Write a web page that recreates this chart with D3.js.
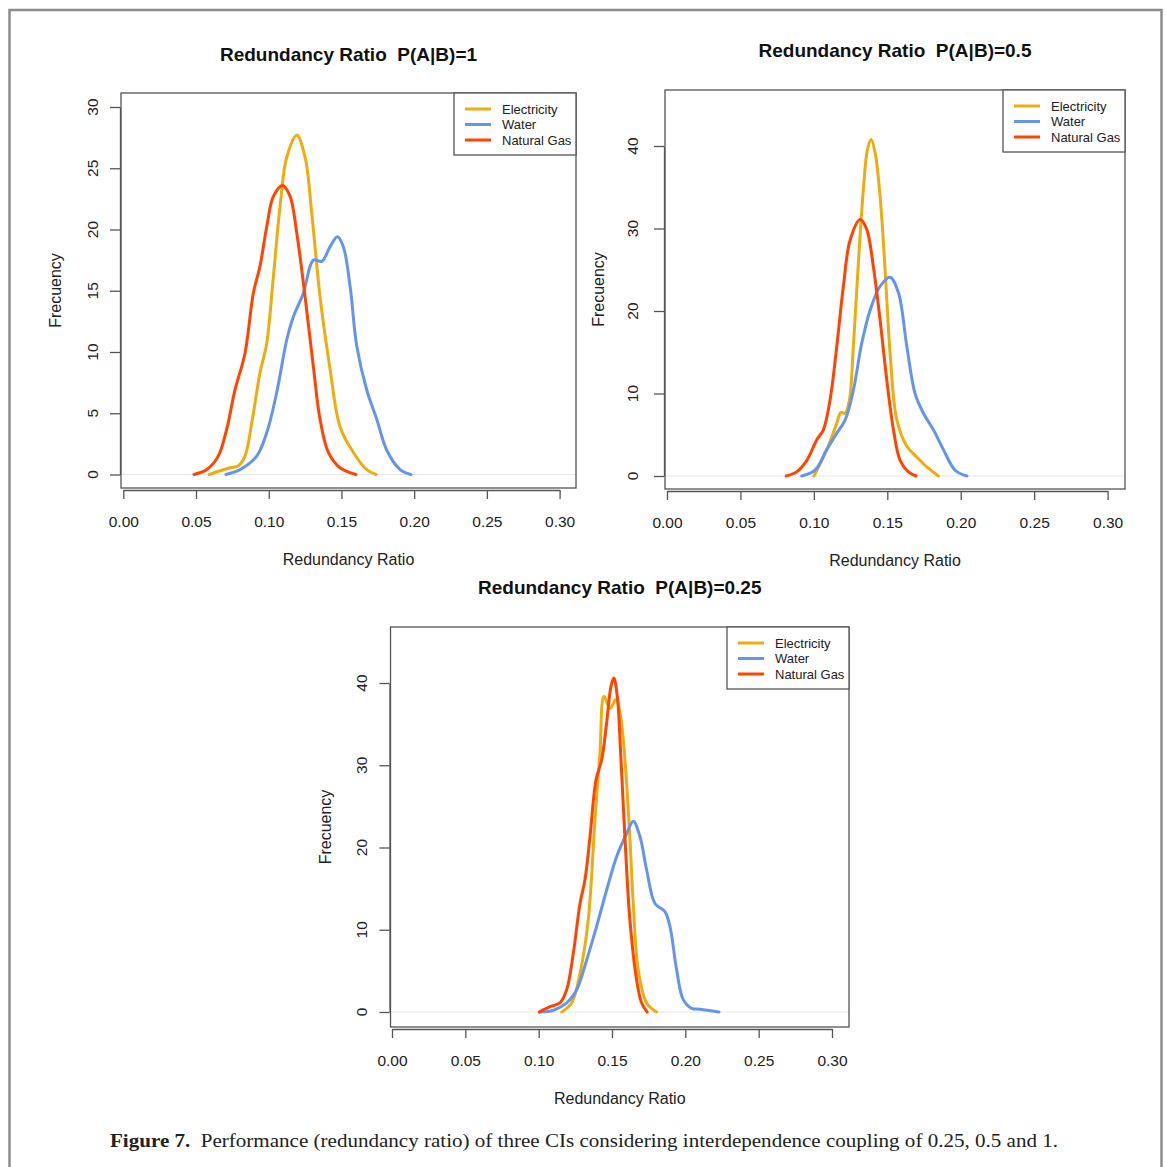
<!doctype html>
<html>
<head>
<meta charset="utf-8">
<script src="https://cdn.jsdelivr.net/npm/d3@7"></script>
<style>
  body { margin: 0; background: #fff; }
  text { font-family: "Liberation Sans", Arial, sans-serif; fill: #222; }
</style>
</head>
<body>
<svg width="1166" height="1167"></svg>
<script>
// ---- data ----
var seriesNames = ["Electricity", "Water", "Natural Gas"];
var seriesColors = ["#EEAD0E", "#6495ED", "#FF4500"];
var titles = ["Redundancy Ratio\u00a0\u00a0P(A|B)=1", "Redundancy Ratio\u00a0\u00a0P(A|B)=0.5", "Redundancy Ratio\u00a0\u00a0P(A|B)=0.25"];
var xTicks = [0, 0.05, 0.10, 0.15, 0.20, 0.25, 0.30];
var yTicksP1 = [0, 5, 10, 15, 20, 25, 30];
var yTicksP2 = [0, 10, 20, 30, 40];

// P(A|B)=1
var p1Electricity = [[0.0591,0],[0.0734,0.55],[0.079,0.7],[0.0837,1.5],[0.0883,4.2],[0.094,8.3],[0.0986,10.7],
  [0.103,15.9],[0.1078,21.9],[0.1124,25.9],[0.1193,27.7],[0.125,25.9],[0.1296,21.3],[0.1353,14.5],[0.1422,8.6],
  [0.149,3.9],[0.1582,1.8],[0.1674,0.4],[0.1738,0]];
var p1Water = [[0.0706,0],[0.0803,0.4],[0.0917,1.5],[0.0986,3.4],[0.1055,6.7],[0.1124,11],[0.117,12.9],
  [0.1238,14.8],[0.1307,17.5],[0.1365,17.4],[0.1422,18.6],[0.1472,19.4],[0.1513,18.6],[0.156,15.3],[0.1605,10.5],
  [0.1674,6.9],[0.1743,4.5],[0.1811,2.0],[0.1903,0.4],[0.1977,0]];
var p1Gas = [[0.0486,0],[0.0574,0.4],[0.0653,1.5],[0.0711,3.7],[0.0768,6.9],[0.0837,9.9],[0.0894,14.8],
  [0.094,17],[0.0986,20.2],[0.1032,22.7],[0.1096,23.6],[0.1147,22.7],[0.1193,19.7],[0.125,14.5],[0.1307,8.8],
  [0.1353,4.5],[0.141,1.8],[0.149,0.55],[0.16,0]];

// P(A|B)=0.5
var p2Electricity = [[0.1001,0],[0.1088,3.2],[0.1156,6.4],[0.1183,7.7],[0.1213,7.6],[0.1242,9.2],[0.1269,15.7],
  [0.1303,25.8],[0.1337,34.7],[0.1365,39.6],[0.139,40.8],[0.1417,39.2],[0.1451,33.9],[0.1485,25],[0.1519,14.9],
  [0.1565,6.8],[0.1633,3.6],[0.1701,2.3],[0.1769,1.1],[0.1848,0]];
var p2Water = [[0.0917,0],[0.1008,0.7],[0.1088,3.2],[0.1156,5.2],[0.1213,6.8],[0.1269,10.4],[0.1326,16.1],
  [0.1383,20.1],[0.1451,23],[0.1519,24.1],[0.1576,22.2],[0.1633,15.7],[0.1689,10],[0.1746,7.6],[0.1814,5.6],
  [0.1882,3.2],[0.1962,0.7],[0.2042,0]];
var p2Gas = [[0.0811,0],[0.0883,0.5],[0.0952,1.9],[0.102,4.4],[0.1065,5.6],[0.111,9.2],[0.1156,15.7],
  [0.1201,23],[0.1247,28.6],[0.1315,31.1],[0.136,29.9],[0.1405,25.4],[0.1451,18.9],[0.1496,11.7],[0.1542,5.6],
  [0.1587,1.9],[0.1644,0.5],[0.1696,0]];

// P(A|B)=0.25
var p3Electricity = [[0.1157,0],[0.1225,1.1],[0.1282,4.7],[0.1338,11.2],[0.1384,23.4],[0.1418,31.5],[0.1445,38.4],
  [0.1486,36.9],[0.1527,38],[0.1559,35.9],[0.1588,30.7],[0.1618,22.5],[0.1645,13.2],[0.1679,5.1],[0.1736,1.1],[0.1804,0]];
var p3Water = [[0.1009,0],[0.11,0.2],[0.1191,1.1],[0.1259,2.7],[0.1327,6.3],[0.1395,10.4],[0.1463,14.8],
  [0.1532,18.9],[0.16,21.7],[0.1645,23.2],[0.1691,21.3],[0.1736,17.3],[0.1793,13.2],[0.1861,12.2],[0.1895,10.4],
  [0.1941,5.1],[0.1986,1.5],[0.2043,0.45],[0.21,0.33],[0.2229,0]];
var p3Gas = [[0.1004,0],[0.1077,0.65],[0.1145,1.1],[0.1191,2.7],[0.1236,7.1],[0.1282,13.2],[0.1316,16.1],
  [0.135,21.3],[0.1391,28.2],[0.143,30.7],[0.1463,35.1],[0.1493,39.6],[0.1513,40.6],[0.1536,38.4],[0.1559,31.5],
  [0.1588,21.3],[0.1622,11.2],[0.1668,3.9],[0.1702,1.1],[0.174,0]];

// ---- layout ----
var panels = [
  {title: titles[0], series: [p1Electricity, p1Water, p1Gas], yTicks: yTicksP1,
   box: [121, 93, 576, 488], xr: [123.3, 559.6], yr: [474.5, 107], titleY: 54, tickLabX: 92, yLabX: 55},
  {title: titles[1], series: [p2Electricity, p2Water, p2Gas], yTicks: yTicksP2,
   box: [665, 90, 1125, 489], xr: [667, 1107.6], yr: [476, 146], titleY: 50, tickLabX: 632, yLabX: 598},
  {title: titles[2], series: [p3Electricity, p3Water, p3Gas], yTicks: yTicksP2,
   box: [390.5, 627, 849, 1027], xr: [392, 832], yr: [1012, 683], titleY: 587, tickLabX: 361, yLabX: 325}
];

var svg = d3.select("svg");

// page frame (open at the bottom)
svg.append("path")
   .attr("d", "M9.5,1170 V10 H1161.5 V1170")
   .attr("fill", "none")
   .attr("stroke", "#8c8c8c")
   .attr("stroke-width", 2.5);

panels.forEach(function(p) {
    var b = p.box;
    var yMax = p.yTicks[p.yTicks.length - 1];
    var x = d3.scaleLinear().domain([0, 0.30]).range(p.xr);
    var y = d3.scaleLinear().domain([0, yMax]).range(p.yr);
    var g = svg.append("g");
    var cx = (b[0] + b[2]) / 2, cy = (b[1] + b[3]) / 2;

    g.append("text")
     .attr("x", cx).attr("y", p.titleY)
     .attr("dy", "0.35em")
     .attr("text-anchor", "middle")
     .attr("font-weight", "bold")
     .attr("font-size", "19px")
     .style("fill", "#111")
     .text(p.title);

    // zero line
    g.append("line")
     .attr("x1", b[0]).attr("x2", b[2])
     .attr("y1", y(0)).attr("y2", y(0))
     .attr("stroke", "#e6e6e6").attr("stroke-width", 1);

    // curves
    var line = d3.line()
        .x(function(d) { return x(d[0]); })
        .y(function(d) { return y(d[1]); })
        .curve(d3.curveCatmullRom.alpha(0.5));
    p.series.forEach(function(s, i) {
        g.append("path")
         .datum(s)
         .attr("fill", "none")
         .attr("stroke", seriesColors[i])
         .attr("stroke-width", 3)
         .attr("stroke-linejoin", "round")
         .attr("stroke-linecap", "round")
         .attr("d", line);
    });

    // box
    g.append("rect")
     .attr("x", b[0]).attr("y", b[1])
     .attr("width", b[2] - b[0]).attr("height", b[3] - b[1])
     .attr("fill", "none").attr("stroke", "#555").attr("stroke-width", 1.3);

    // x axis
    var xa = g.append("g")
        .attr("transform", "translate(0," + (b[3] + 2) + ")")
        .call(d3.axisBottom(x).tickValues(xTicks).tickSize(9).tickSizeOuter(0).tickFormat(d3.format(".2f")));
    xa.selectAll("path, line").attr("stroke", "#555").attr("stroke-width", 1.3);
    xa.selectAll("text")
      .attr("y", 31).attr("dy", 0)
      .attr("dominant-baseline", "central")
      .attr("font-size", "15.5px")
      .attr("font-family", "Liberation Sans, Arial, sans-serif")
      .style("fill", "#222");

    g.append("text")
     .attr("x", cx).attr("y", b[3] + 71)
     .attr("dominant-baseline", "central")
     .attr("text-anchor", "middle")
     .attr("font-size", "16px")
     .text("Redundancy Ratio");

    // y axis
    var ya = g.append("g")
        .attr("transform", "translate(" + (b[0] - 1) + ",0)")
        .call(d3.axisLeft(y).tickValues(p.yTicks).tickSize(10).tickSizeOuter(0));
    ya.selectAll("path, line").attr("stroke", "#555").attr("stroke-width", 1.3);
    ya.selectAll("text").remove();
    p.yTicks.forEach(function(t) {
        g.append("text")
         .attr("transform", "translate(" + p.tickLabX + "," + y(t) + ") rotate(-90)")
         .attr("text-anchor", "middle")
         .attr("dominant-baseline", "central")
         .attr("font-size", "15.5px")
         .text(t);
    });
    g.append("text")
     .attr("transform", "translate(" + p.yLabX + "," + cy + ") rotate(-90)")
     .attr("text-anchor", "middle")
     .attr("dominant-baseline", "central")
     .attr("font-size", "16px")
     .text("Frecuency");

    // legend
    var lx = b[2] - 122, ly = b[1];
    g.append("rect")
     .attr("x", lx).attr("y", ly).attr("width", 122).attr("height", 62)
     .attr("fill", "#fff").attr("stroke", "#555").attr("stroke-width", 1.3);
    seriesNames.forEach(function(n, i) {
        var yy = ly + 16 + i * 15.5;
        g.append("line")
         .attr("x1", lx + 11).attr("x2", lx + 37)
         .attr("y1", yy).attr("y2", yy)
         .attr("stroke", seriesColors[i]).attr("stroke-width", 3);
        g.append("text")
         .attr("x", lx + 48).attr("y", yy)
         .attr("dominant-baseline", "central")
         .attr("font-size", "13px")
         .text(n);
    });
});

// caption
var cap = svg.append("text")
    .attr("x", 110).attr("y", 1140)
    .attr("dominant-baseline", "central")
    .attr("textLength", 948)
    .attr("lengthAdjust", "spacingAndGlyphs")
    .style("font-family", "'Liberation Serif', 'DejaVu Serif', serif")
    .style("font-size", "19px")
    .style("fill", "#222");
cap.append("tspan").attr("font-weight", "bold").text("Figure 7.");
cap.append("tspan").text("\u00a0\u00a0Performance (redundancy ratio) of three CIs considering interdependence coupling of 0.25, 0.5 and 1.");
</script>
</body>
</html>
